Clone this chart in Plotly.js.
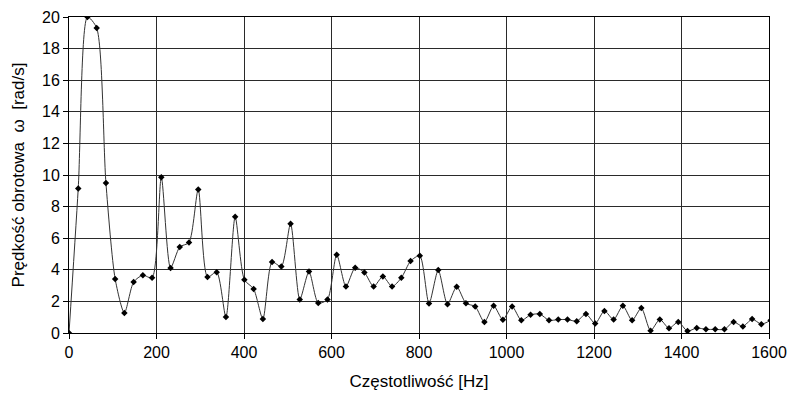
<!DOCTYPE html>
<html>
<head>
<meta charset="utf-8">
<script src="https://cdn.plot.ly/plotly-3.0.1.min.js"></script>
<style>html,body{margin:0;padding:0;background:#fff;}#chart{width:789px;height:394px;}</style>
</head>
<body>
<div id="chart"></div>
<script>
var frequencyHz = [0, 21.1, 42.2, 63.3, 84.4, 105.5, 126.6, 147.7, 168.8, 189.9,
  211, 232.1, 253.2, 274.3, 295.4, 316.5, 337.6, 358.7, 379.8, 400.9,
  422, 443.1, 464.2, 485.3, 506.4, 527.5, 548.6, 569.7, 590.8, 611.9,
  633, 654.1, 675.2, 696.3, 717.4, 738.5, 759.6, 780.7, 801.8, 822.9,
  844, 865.1, 886.2, 907.3, 928.4, 949.5, 970.6, 991.7, 1012.8, 1033.9,
  1055, 1076.1, 1097.2, 1118.3, 1139.4, 1160.5, 1181.6, 1202.7, 1223.8, 1244.9,
  1266, 1287.1, 1308.2, 1329.3, 1350.4, 1371.5, 1392.6, 1413.7, 1434.8, 1455.9,
  1477, 1498.1, 1519.2, 1540.3, 1561.4, 1582.5, 1603.6];
var omegaRadS = [0, 9.15, 20, 19.3, 9.5, 3.42, 1.27, 3.23, 3.66, 3.49,
  9.85, 4.12, 5.45, 5.73, 9.09, 3.55, 3.85, 1.01, 7.35, 3.37,
  2.79, 0.89, 4.49, 4.21, 6.92, 2.12, 3.89, 1.9, 2.12, 4.95,
  2.94, 4.13, 3.83, 2.94, 3.58, 2.94, 3.49, 4.55, 4.89, 1.86,
  3.98, 1.82, 2.93, 1.88, 1.68, 0.69, 1.72, 0.84, 1.68, 0.8,
  1.15, 1.2, 0.8, 0.85, 0.85, 0.75, 1.2, 0.6, 1.4, 0.85,
  1.72, 0.8, 1.58, 0.15, 0.86, 0.3, 0.7, 0.12, 0.32, 0.23,
  0.23, 0.23, 0.7, 0.41, 0.88, 0.56, 0.8];
var xTickVals = [0, 200, 400, 600, 800, 1000, 1200, 1400, 1600];
var yTickVals = [0, 2, 4, 6, 8, 10, 12, 14, 16, 18, 20];
var xTitle = 'Częstotliwość [Hz]';
var yTitle = 'Prędkość obrotowa  ω  [rad/s]';

var trace = {
  x: frequencyHz,
  y: omegaRadS,
  type: 'scatter',
  mode: 'lines+markers',
  line: {color: '#333333', width: 1, shape: 'spline', smoothing: 0.7},
  marker: {symbol: 'diamond', size: 5, color: '#000000'},
  hoverinfo: 'x+y'
};

var font = {family: 'Liberation Sans, Arial, sans-serif', color: '#000000'};

var layout = {
  width: 789, height: 394,
  margin: {l: 69, r: 20, t: 17, b: 61, pad: 0},
  paper_bgcolor: '#ffffff',
  plot_bgcolor: '#ffffff',
  showlegend: false,
  font: font,
  xaxis: {
    range: [0, 1600],
    tickvals: xTickVals,
    ticktext: xTickVals.map(String),
    ticks: 'outside', ticklen: 5, tickcolor: '#000', tickwidth: 1,
    showgrid: true, gridcolor: '#2a2a2a', gridwidth: 1,
    showline: true, linecolor: '#000', linewidth: 1, mirror: true,
    zeroline: false,
    tickfont: {family: font.family, size: 16, color: '#000'},
    title: {text: xTitle, font: {family: font.family, size: 17, color: '#000'}, standoff: 14}
  },
  yaxis: {
    range: [0, 20],
    tickvals: yTickVals,
    ticktext: yTickVals.map(String),
    ticks: 'outside', ticklen: 5, tickcolor: '#000', tickwidth: 1,
    showgrid: true, gridcolor: '#2a2a2a', gridwidth: 1,
    showline: true, linecolor: '#000', linewidth: 1, mirror: true,
    zeroline: false,
    tickfont: {family: font.family, size: 16, color: '#000'},
    title: {text: yTitle, font: {family: font.family, size: 17, color: '#000'}, standoff: 13}
  }
};

Plotly.newPlot('chart', [trace], layout, {displayModeBar: false, staticPlot: true});
</script>
</body>
</html>
